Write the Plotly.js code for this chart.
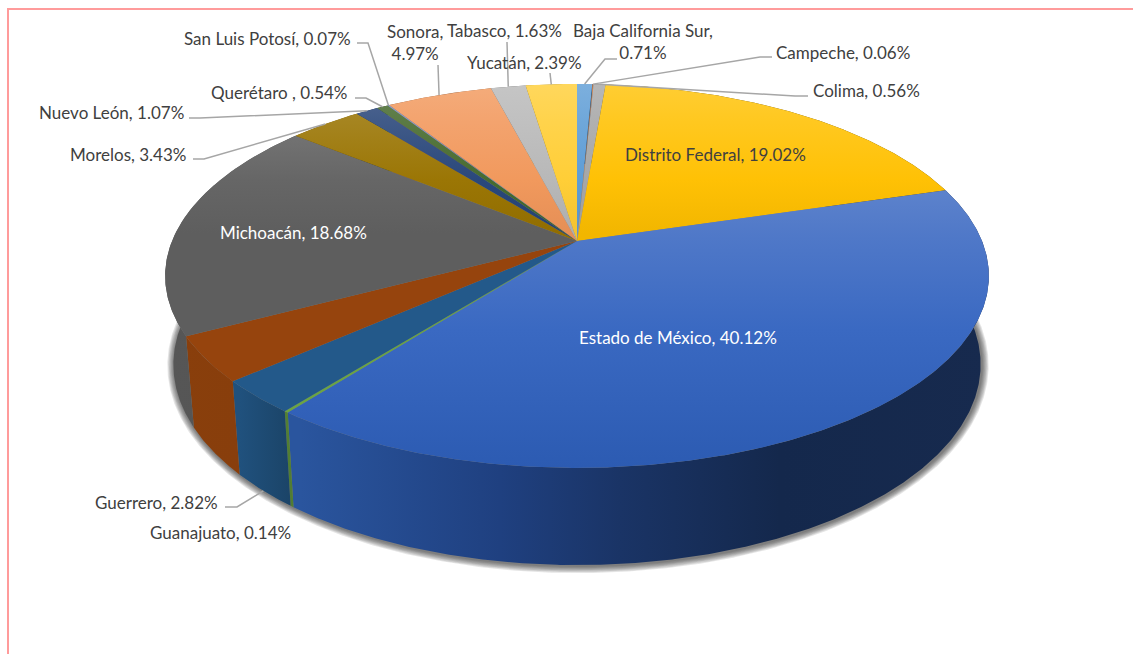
<!DOCTYPE html>
<html>
<head>
<meta charset="utf-8">
<script src="https://cdn.plot.ly/plotly-3.0.1.min.js"></script>
<style>html,body{margin:0;padding:0;background:#fff}#chart{width:1133px;height:654px}</style>
</head>
<body>
<div id="chart"></div>
<script>
// ---- data ----
const categories = ["Baja California Sur","Campeche","Colima","Distrito Federal","Estado de México","Guanajuato","Guerrero","","Michoacán","Morelos","Nuevo León","Querétaro ","San Luis Potosí","Sonora","Tabasco","Yucatán"];
const values = [0.71,0.06,0.56,19.02,40.12,0.14,2.82,3.79,18.68,3.43,1.07,0.54,0.07,4.97,1.63,2.39];
const colors = ["#5B9BD5","#ED7D31","#A5A5A5","#FFC000","#4472C4","#70AD47","#255E91","#9E480E","#636363","#997300","#264478","#43682B","#698ED0","#F1975A","#B7B7B7","#FFCD33"];

// label placement
const labelX = [643,843,866,715,678,220,156,0,293,128,111,279,267,415,504,524];
const labelY = [41,52,90,154,337,532,502,0,232,154,112,92,38,42,30,62];
const labelBreak = [1,0,0,0,0,0,0,0,0,0,0,0,0,1,0,0];
const labelColor = ["#404040","#404040","#404040","#404040","#ffffff","#404040","#404040","#404040","#ffffff","#404040","#404040","#404040","#404040","#404040","#404040","#404040"];
// leader elbows: label end, elbow; the last point is the slice edge at the slice's middle
const leaders = {
  0:[[617,59],[605,59]], 1:[[772,57],[760,57]], 2:[[808,96],[795,96]],
  6:[[225,507],[237,507]], 9:[[193,159],[204,159]], 10:[[189,118],[200,118]],
  11:[[355,98],[366,98]], 12:[[357,43],[368,43]], 13:[[438,65]], 14:[[507,42]], 15:[[550,73]]
};
const leaderOnBottomEdge = [6];

// ---- projection of the disc ----
const APEX_X = 577, APEX_Y = 241, K = 0.182, A = 185.6, B = 405;
const BOT_SX = 0.98, BOT_SY = 1.045, BOT_Y = 328;
const total = values.reduce((a,b)=>a+b,0);
function topPt(t){const d=1+K*Math.cos(t);return [APEX_X+B*Math.sin(t)/d, APEX_Y-A*Math.cos(t)/d];}
function botPt(t){const p=topPt(t);return [APEX_X+BOT_SX*(p[0]-APEX_X), BOT_Y+BOT_SY*(p[1]-APEX_Y)];}
function hex(c){return [1,3,5].map(i=>parseInt(c.substr(i,2),16));}
function mix(c,f){
  const r=hex(c).map(v=>f>=0?v+(255-v)*f:v*(1+f));
  return `rgb(${r.map(Math.round).join(",")})`;}
function scale(c,f){return `rgb(${hex(c).map(v=>Math.round(v*f)).join(",")})`;}
function arc(a,b,fn){const n=Math.max(2,Math.ceil((b-a)/0.006));const o=[];for(let i=0;i<=n;i++)o.push(fn(a+(b-a)*i/n));return o;}

const traces = [];
// soft shadow around the foot of the disc
for(let g=7;g>=1;g--){
  const all=arc(0,2*Math.PI,botPt);
  const cx=577, cy=BOT_Y+BOT_SY*(276-APEX_Y);
  const sx=(404+g)/404, sy=(201+g)/201;
  traces.push({type:"scatter",mode:"lines",x:all.map(p=>cx+(p[0]-cx)*sx+1),y:all.map(p=>cy+(p[1]-cy)*sy+1),
    fill:"toself",fillcolor:"rgba(40,40,40,0.12)",line:{width:0},hoverinfo:"skip",showlegend:false});
}
// side walls
const X0=170,X1=990;
const SIDE_STOPS=[[170,.87],[240,.86],[290,.72],[500,.55],[750,.38],[990,.36]];
const SIDE_BLUE=[[170,"#2A559E"],[300,"#2A559E"],[500,"#1F4080"],[620,"#1A3466"],[780,"#14284C"],[990,"#172A4E"]];
let acc=0; const spans=values.map(v=>{const s=acc/total*2*Math.PI;acc+=v;return [s,acc/total*2*Math.PI];});
values.forEach((v,i)=>{
  const [a,b]=spans[i];
  const t=arc(a,b,topPt), u=arc(a,b,botPt).reverse();
  const p=t.concat(u); p.push(t[0]);
  const cs = i===4 ? SIDE_BLUE.map(s=>[(s[0]-X0)/(X1-X0),s[1]])
                   : SIDE_STOPS.map(s=>[(s[0]-X0)/(X1-X0),scale(colors[i],s[1])]);
  traces.push({type:"scatter",mode:"lines",x:p.map(q=>q[0]),y:p.map(q=>q[1]),fill:"toself",line:{width:0},hoverinfo:"skip",showlegend:false,
    fillcolor:colors[i],fillgradient:{type:"horizontal",start:X0,stop:X1,colorscale:cs}});
});
// top faces
const TOP_STOPS=[[0,.2],[.1,.12],[.25,.02],[.39,-.05],[1,-.05]];
const TOP_BLUE=[[0,"#6D8FD4"],[.28,"#5C82CC"],[.4,"#4F78C8"],[.64,"#3A69C2"],[1,"#2C5BB2"]];
values.forEach((v,i)=>{
  const [a,b]=spans[i];
  const p=[[APEX_X,APEX_Y]].concat(arc(a,b,topPt)); p.push([APEX_X,APEX_Y]);
  const cs = i===4 ? TOP_BLUE : TOP_STOPS.map(s=>[s[0],mix(colors[i],s[1])]);
  traces.push({type:"scatter",mode:"lines",x:p.map(q=>q[0]),y:p.map(q=>q[1]),fill:"toself",line:{width:0},
    name:categories[i],text:categories[i]+" "+v.toFixed(2)+"%",hoverinfo:"text",showlegend:false,
    fillcolor:colors[i],fillgradient:{type:"vertical",start:84,stop:468,colorscale:cs}});
});
// leader lines
Object.keys(leaders).forEach(k=>{
  const i=+k,[a,b]=spans[i],m=(a+b)/2;
  const e=leaderOnBottomEdge.includes(i)?botPt(m):topPt(m);
  const p=leaders[k].concat([e]);
  traces.push({type:"scatter",mode:"lines",x:p.map(q=>q[0]),y:p.map(q=>q[1]),line:{color:"#A6A6A6",width:1.5},hoverinfo:"skip",showlegend:false});
});
// labels
const annotations=[];
categories.forEach((c,i)=>{
  if(!c) return;
  const text=c+","+(labelBreak[i]?"<br>":" ")+values[i].toFixed(2)+"%";
  annotations.push({xref:"x",yref:"y",x:labelX[i],y:labelY[i],text:text,showarrow:false,xanchor:"center",yanchor:"middle",align:"center",
    font:{family:"Lato, sans-serif",size:17,color:labelColor[i]}});
});
const layout={width:1133,height:654,margin:{l:0,r:0,t:0,b:0},paper_bgcolor:"#fff",plot_bgcolor:"#fff",showlegend:false,
  xaxis:{range:[0,1133],visible:false,fixedrange:true},
  yaxis:{range:[654,0],visible:false,fixedrange:true},
  annotations:annotations,
  shapes:[{type:"line",xref:"x",yref:"y",x0:8,y0:9,x1:1133,y1:9,line:{color:"#FF9B9B",width:2}},
          {type:"line",xref:"x",yref:"y",x0:8,y0:8,x1:8,y1:654,line:{color:"#FF9B9B",width:2}}]};
Plotly.newPlot("chart",traces,layout,{displayModeBar:false});
</script>
</body>
</html>
